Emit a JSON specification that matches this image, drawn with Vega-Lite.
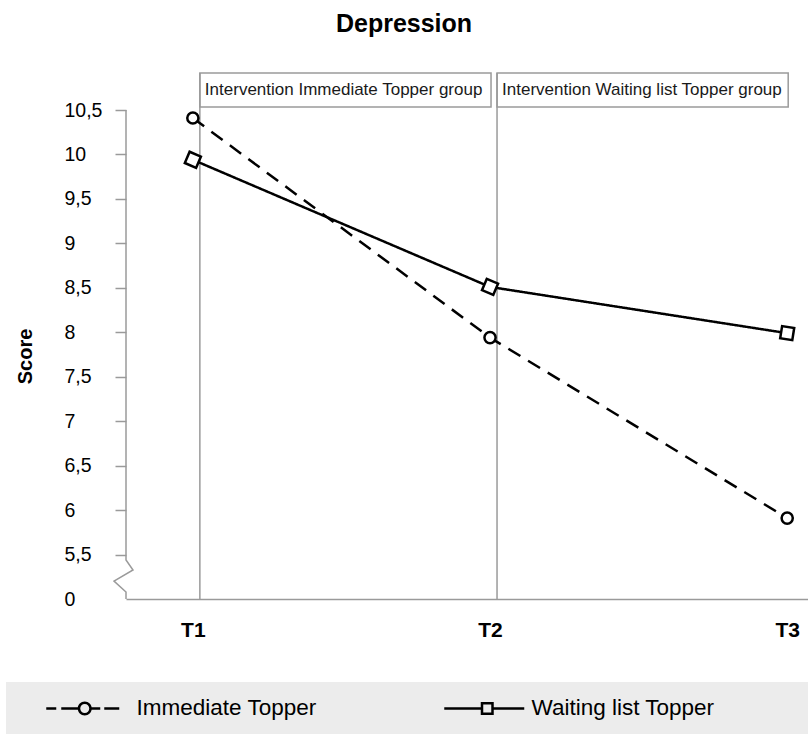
{
  "$schema": "https://vega.github.io/schema/vega-lite/v6.json",
  "width": 682,
  "height": 489,
  "autosize": {"type": "none"},
  "padding": {"left": 126, "top": 110, "right": 0, "bottom": 135},
  "background": "white",
  "title": {
    "text": "Depression",
    "fontSize": 25,
    "fontWeight": "bold",
    "color": "black",
    "font": "Liberation Sans",
    "anchor": "middle",
    "frame": "group",
    "dx": -63,
    "baseline": "alphabetic",
    "offset": 15
  },
  "config": {"view": {"stroke": null}, "font": "Liberation Sans"},
  "datasets": {
    "scores": [
      {"time": 1, "group": "Immediate Topper", "score": 10.41},
      {"time": 2, "group": "Immediate Topper", "score": 7.94},
      {"time": 3, "group": "Immediate Topper", "score": 5.91},
      {"time": 1, "group": "Waiting list Topper", "score": 9.94},
      {"time": 2, "group": "Waiting list Topper", "score": 8.51},
      {"time": 3, "group": "Waiting list Topper", "score": 7.99}
    ],
    "phases": [
      {"phase": "Intervention Immediate Topper group", "start": 1, "end": 2},
      {"phase": "Intervention Waiting list Topper group", "start": 2, "end": 3}
    ],
    "axisline": [
      {"seq": 1, "ax": 0.775, "ay": 10.5},
      {"seq": 2, "ax": 0.775, "ay": 5.439},
      {"seq": 3, "ax": 0.7986, "ay": 5.326},
      {"seq": 4, "ax": 0.7346, "ay": 5.202},
      {"seq": 5, "ax": 0.775, "ay": 5.079},
      {"seq": 6, "ax": 0.775, "ay": 5.0}
    ]
  },
  "layer": [
    {
      "data": {"name": "phases"},
      "mark": {"type": "rect", "fill": "white", "stroke": "#9a9a9a", "strokeWidth": 1.5, "xOffset": 7, "x2Offset": 1},
      "encoding": {
        "x": {"field": "start", "type": "quantitative", "scale": {"domain": [0.775, 3.07]}, "title": null},
        "x2": {"field": "end"},
        "y": {"datum": 10.534, "type": "quantitative", "scale": {"domain": [5, 10.5]}, "title": "Score"},
        "y2": {"datum": 10.916}
      }
    },
    {
      "data": {"name": "phases"},
      "mark": {"type": "text", "align": "left", "baseline": "middle", "dx": 12, "fontSize": 17, "color": "#1a1a1a", "font": "Liberation Sans"},
      "encoding": {
        "x": {"field": "start", "type": "quantitative", "scale": {"domain": [0.775, 3.07]}, "title": null},
        "y": {"datum": 10.725, "type": "quantitative", "scale": {"domain": [5, 10.5]}, "title": "Score"},
        "text": {"field": "phase"}
      }
    },
    {
      "data": {"name": "phases"},
      "mark": {"type": "rule", "color": "#9a9a9a", "strokeWidth": 1.5, "xOffset": 7},
      "encoding": {
        "x": {"field": "start", "type": "quantitative", "scale": {"domain": [0.775, 3.07]}, "title": null},
        "y": {"datum": 5, "type": "quantitative", "scale": {"domain": [5, 10.5]}, "title": "Score"},
        "y2": {"datum": 10.916}
      }
    },
    {
      "data": {"name": "axisline"},
      "mark": {"type": "line", "color": "#9a9a9a", "strokeWidth": 1.5},
      "encoding": {
        "x": {"field": "ax", "type": "quantitative", "scale": {"domain": [0.775, 3.07]}, "title": null},
        "y": {"field": "ay", "type": "quantitative", "scale": {"domain": [5, 10.5]}, "title": "Score"},
        "order": {"field": "seq", "type": "quantitative"}
      }
    },
    {
      "data": {"name": "scores"},
      "mark": {"type": "line", "color": "black", "strokeWidth": 2.5},
      "encoding": {
        "x": {
          "field": "time", "type": "quantitative", "scale": {"domain": [0.775, 3.07]}, "title": null,
          "axis": {
            "values": [1, 2, 3],
            "labelExpr": "'T' + datum.value",
            "ticks": false,
            "tickSize": 0,
            "grid": false,
            "domainColor": "#9a9a9a",
            "domainWidth": 1.5,
            "labelFontSize": 21,
            "labelFontWeight": "bold",
            "labelColor": "black",
            "labelFont": "Liberation Sans",
            "labelPadding": 20,
            "labelFlush": false
          }
        },
        "y": {
          "field": "score", "type": "quantitative", "scale": {"domain": [5, 10.5]}, "title": "Score",
          "axis": {
            "values": [5, 5.5, 6, 6.5, 7, 7.5, 8, 8.5, 9, 9.5, 10, 10.5],
            "labelExpr": "datum.value == 5 ? '0' : replace(format(datum.value, '.1~f'), '.', ',')",
            "domain": false,
            "grid": false,
            "tickColor": "#9a9a9a",
            "tickWidth": 1.5,
            "tickSize": 11,
            "tickOpacity": {"condition": {"test": "datum.value == 5", "value": 0}, "value": 1},
            "labelAlign": "left",
            "labelPadding": 51,
            "labelFontSize": 19.5,
            "labelColor": "black",
            "labelFont": "Liberation Sans",
            "labelFlush": false,
            "labelOverlap": false,
            "titleFontSize": 20,
            "titleFontWeight": "bold",
            "titleColor": "black",
            "titleFont": "Liberation Sans",
            "titleX": -95,
            "titleY": 246,
            "titleAngle": 270,
            "titleAlign": "center",
            "titleBaseline": "alphabetic"
          }
        },
        "detail": {"field": "group", "type": "nominal"},
        "strokeDash": {"condition": {"test": "datum.group === 'Immediate Topper'", "value": [14, 9]}, "value": [1, 0]}
      }
    },
    {
      "data": {"name": "scores"},
      "mark": {"type": "point", "filled": true, "color": "black", "fill": "black", "strokeWidth": 0, "opacity": 0, "size": 400},
      "encoding": {
        "x": {"field": "time", "type": "quantitative", "scale": {"domain": [0.775, 3.07]}, "title": null},
        "y": {"field": "score", "type": "quantitative", "scale": {"domain": [5, 10.5]}, "title": "Score"},
        "shape": {
          "field": "group", "type": "nominal",
          "scale": {
            "domain": ["Immediate Topper", "Waiting list Topper"],
            "range": [
              "M1.4,-0.125H2.4V0.125H1.4ZM2.9,-0.125H4.6V0.125H2.9ZM4.55,0A0.7,0.7,0,1,1,5.95,0A0.7,0.7,0,1,1,4.55,0ZM4.8,0A0.45,0.45,0,1,0,5.7,0A0.45,0.45,0,1,0,4.8,0ZM5.9,-0.125H6.8V0.125H5.9ZM7.2,-0.125H8.7V0.125H7.2Z",
              "M1.7,-0.125H5.35V0.125H1.7ZM5.35,-0.65H6.65V0.65H5.35ZM5.6,-0.4V0.4H6.4V-0.4ZM6.65,-0.125H9.7V0.125H6.65ZM36.7,0"
            ]
          },
          "legend": {
            "orient": "none",
            "legendX": -120,
            "legendY": 572,
            "direction": "horizontal",
            "title": null,
            "fillColor": "#ececec",
            "padding": 15,
            "labelFontSize": 22.5,
            "labelFont": "Liberation Sans",
            "labelColor": "black",
            "labelOffset": 93,
            "labelLimit": 400,
            "columnPadding": 99,
            "symbolSize": 400,
            "symbolStrokeWidth": 0,
            "symbolFillColor": "black",
            "symbolOpacity": 1
          }
        }
      }
    },
    {
      "data": {"name": "scores"},
      "mark": {"type": "point", "filled": true, "fill": "white", "stroke": "black", "strokeWidth": 2.5, "opacity": 1},
      "encoding": {
        "x": {"field": "time", "type": "quantitative", "scale": {"domain": [0.775, 3.07]}, "title": null},
        "y": {"field": "score", "type": "quantitative", "scale": {"domain": [5, 10.5]}, "title": "Score"},
        "shape": {"condition": {"test": "datum.group === 'Immediate Topper'", "value": "circle"}, "value": "square"},
        "size": {"condition": {"test": "datum.group === 'Immediate Topper'", "value": 125}, "value": 150},
        "angle": {"condition": [{"test": "datum.group === 'Immediate Topper'", "value": 0}, {"test": "datum.time === 3", "value": 9}], "value": 23}
      }
    }
  ]
}
